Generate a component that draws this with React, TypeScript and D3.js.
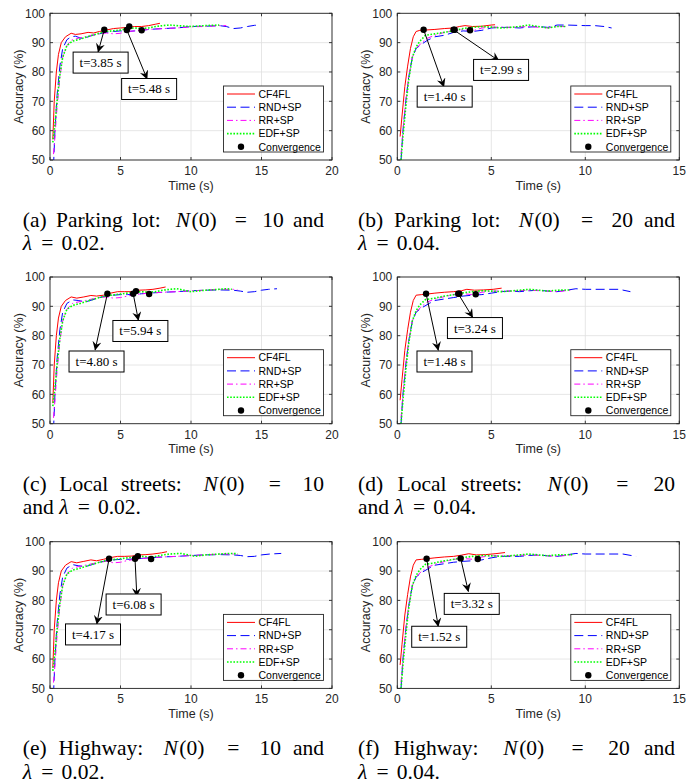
import React from 'react';
import * as d3 from 'd3';

type Pt = [number, number];

const seriesNames = ['CF4FL', 'RND+SP', 'RR+SP', 'EDF+SP'];
const seriesColors = ['#ff0000', '#0000ff', '#ff00ff', '#00ff00'];
const seriesDash = ['none', '9,4.5', '6,3,1.5,3', '1.6,1.6'];
const seriesWidth = [1, 1, 1, 1.6];
const yTicks = [50, 60, 70, 80, 90, 100];

// (a) Parking lot, N(0)=10, lambda=0.02
const aCF4FL: Pt[] = [[0.2, 57], [0.3, 70], [0.45, 80], [0.6, 86], [0.8, 90], [1.1, 92], [1.5, 93.2], [1.8, 92.8], [2.2, 93], [2.7, 93.5], [3.1, 93.3], [3.5, 93.8], [4, 94.3], [4.5, 94.8], [5, 95], [5.5, 95.2], [6, 95.5], [6.5, 95.5], [7, 95.8], [7.5, 96.3], [7.8, 96.6]];
const aRND: Pt[] = [[0.25, 48], [0.35, 60], [0.5, 72], [0.7, 82], [0.9, 88], [1.2, 91], [1.5, 92], [1.8, 92.2], [2.2, 91.5], [2.6, 91.8], [3, 92.5], [3.5, 93], [4, 93.5], [4.5, 93.8], [5, 94], [5.5, 93.8], [6, 94], [6.5, 94.2], [7, 94.5], [8, 94.8], [9, 95], [10, 95.5], [11, 95.6], [12, 95.8], [12.5, 95.5], [13, 94.8], [13.5, 95], [14, 95.5], [14.5, 95.9], [14.9, 96]];
const aRR: Pt[] = [[0.25, 52], [0.35, 58], [0.5, 68], [0.7, 78], [0.9, 85], [1.2, 89], [1.5, 90.8], [2, 91.5], [2.5, 92], [3, 92.5], [3.5, 93], [4, 93.3], [4.5, 93], [5, 93.2], [5.5, 93.8], [6, 94], [7, 94.5], [8, 94.8], [9, 95], [10, 95.4], [11, 95.5], [12, 95.8], [12.5, 95.8]];
const aEDF: Pt[] = [[0.2, 56], [0.35, 62], [0.5, 70], [0.7, 79], [0.9, 85], [1.2, 89], [1.6, 90.5], [2, 91], [2.5, 91.8], [3, 92.5], [3.5, 93.2], [4, 93.8], [5, 94.3], [5.5, 94.8], [6, 95], [6.5, 94.8], [7, 95], [7.5, 95.5], [8, 95.8], [8.5, 96], [9, 95.8], [10, 95.5], [11, 95.8], [12, 96]];
const aConv: Pt[] = [[3.85, 94.4], [5.45, 94.3], [5.62, 95.5], [6.5, 94.2]];
const aNotes = ['t=3.85 s', 't=5.48 s'];

// (b) Parking lot, N(0)=20, lambda=0.04
const bCF4FL: Pt[] = [[0.15, 58], [0.25, 65], [0.4, 75], [0.55, 82], [0.7, 88], [0.85, 92], [1.0, 93.8], [1.2, 94.2], [1.5, 94.3], [2, 94.5], [2.5, 94.8], [3, 95], [3.3, 95.5], [3.6, 95.8], [4, 95.5], [4.5, 95.6], [5, 96], [5.2, 96.1]];
const bRND: Pt[] = [[0.2, 50], [0.3, 60], [0.45, 70], [0.6, 78], [0.8, 85], [1.0, 88], [1.3, 89.5], [1.6, 90.8], [2, 92], [2.5, 92.5], [3, 93.5], [3.5, 94], [4, 93.8], [4.5, 94.2], [5, 95], [5.5, 95.2], [6, 95.2], [6.5, 95], [7, 95.3], [7.5, 95.5], [8, 95.2], [8.5, 96], [9, 96], [10, 95.8], [10.5, 95.8], [11, 95.5], [11.4, 95]];
const bRR: Pt[] = [[0.2, 52], [0.3, 60], [0.45, 70], [0.6, 78], [0.8, 85], [1.0, 88], [1.3, 90], [1.6, 91.5], [2, 92.5], [2.5, 93.5], [3, 94], [3.5, 94.5], [4, 94], [4.5, 95], [5, 95.3], [6, 95.2], [7, 95.5], [8, 95], [8.5, 95.5], [9, 95.5]];
const bEDF: Pt[] = [[0.2, 50], [0.3, 58], [0.45, 68], [0.6, 77], [0.8, 85], [1.0, 88.5], [1.2, 90.5], [1.5, 92.5], [2, 93], [2.5, 93.5], [3, 94], [3.5, 94.8], [4, 95.2], [4.5, 95.5], [5, 95.3], [5.5, 95], [6, 95.2], [6.5, 95.5], [7, 96], [7.5, 95.5], [8, 95], [8.5, 95.5], [9, 95.5]];
const bConv: Pt[] = [[1.4, 94.4], [2.99, 94.4], [3.05, 94.4], [3.87, 94.2]];
const bNotes = ['t=1.40 s', 't=2.99 s'];

// (c) Local streets, N(0)=10, lambda=0.02
const cCF4FL: Pt[] = [[0.2, 57], [0.3, 70], [0.45, 80], [0.6, 86], [0.8, 90], [1.1, 92], [1.5, 93.2], [1.9, 92.8], [2.4, 93.2], [2.9, 93.7], [3.3, 93.5], [3.8, 93.8], [4.3, 94.5], [4.8, 95], [5.3, 95], [5.8, 95], [6.3, 95.5], [6.8, 95.6], [7.3, 95.8], [7.8, 96.2], [8.2, 96.6]];
const cRND: Pt[] = [[0.25, 48], [0.35, 60], [0.5, 72], [0.7, 82], [0.9, 88], [1.2, 91], [1.6, 92.2], [2, 92], [2.5, 91.5], [3, 92.2], [3.5, 93], [4, 93.5], [4.5, 93.8], [5, 94], [5.5, 94], [6, 94], [6.5, 94.3], [7, 94.5], [8, 94.8], [9, 95], [10, 95.3], [11, 95.5], [12, 95.6], [13, 95.5], [13.5, 95.2], [14, 94.8], [14.5, 95], [15, 95.5], [15.5, 95.8], [16.1, 96]];
const cRR: Pt[] = [[0.25, 52], [0.35, 58], [0.5, 68], [0.7, 78], [0.9, 85], [1.2, 89], [1.6, 91], [2, 91.5], [2.5, 92], [3, 92.5], [3.5, 93], [4, 93.2], [4.5, 92.8], [5, 93], [5.5, 93.5], [6, 94], [7, 94.5], [8, 94.8], [9, 95], [10, 95.3], [11, 95.5], [12, 95.8], [13, 95.8], [13.3, 95.6]];
const cEDF: Pt[] = [[0.2, 56], [0.35, 62], [0.5, 70], [0.7, 79], [0.9, 85], [1.2, 89], [1.6, 90.3], [2, 90.8], [2.5, 91.5], [3, 92.3], [3.5, 93], [4, 93.6], [5, 94.2], [5.5, 94.5], [6, 94.8], [6.5, 95], [7, 94.8], [7.5, 95], [8, 95.5], [8.5, 95.8], [9, 96], [9.5, 95.5], [10, 95], [11, 95.5], [12, 95.8], [12.5, 96], [12.9, 95.8]];
const cConv: Pt[] = [[4.07, 94.3], [5.9, 94.3], [6.1, 95.2], [7.03, 94.2]];
const cNotes = ['t=4.80 s', 't=5.94 s'];

// (d) Local streets, N(0)=20, lambda=0.04
const dCF4FL: Pt[] = [[0.15, 58], [0.25, 65], [0.4, 75], [0.55, 82], [0.7, 88], [0.85, 92], [1.0, 93.8], [1.3, 94], [1.6, 94.2], [2, 94.5], [2.5, 94.8], [3, 95], [3.4, 95.3], [3.7, 95.8], [4.1, 95.5], [4.6, 95.6], [5.1, 95.8], [5.55, 96.2]];
const dRND: Pt[] = [[0.2, 50], [0.3, 60], [0.45, 70], [0.6, 78], [0.8, 85], [1.0, 88], [1.3, 89.5], [1.7, 91], [2, 92], [2.5, 92.5], [3, 93], [3.5, 93.5], [4, 93.8], [4.5, 94], [5, 94.5], [5.5, 95], [6, 95.2], [6.5, 95], [7, 95.3], [7.5, 95.5], [8, 95.2], [8.5, 95], [9, 95.5], [9.5, 96], [10, 95.8], [11, 95.8], [11.8, 95.8], [12.4, 95]];
const dRR: Pt[] = [[0.2, 52], [0.3, 60], [0.45, 70], [0.6, 78], [0.8, 85], [1.0, 88], [1.3, 90], [1.6, 91.5], [2, 92.5], [2.5, 93.3], [3, 94], [3.5, 94.3], [4, 94], [4.5, 94.8], [5, 95.2], [6, 95.2], [7, 95.5], [8, 95.2], [8.5, 95], [9.2, 95.5]];
const dEDF: Pt[] = [[0.2, 50], [0.3, 58], [0.45, 68], [0.6, 77], [0.8, 85], [1.0, 88.5], [1.2, 90.5], [1.5, 92.3], [2, 92.8], [2.5, 93.5], [3, 94], [3.5, 94.6], [4, 95], [4.5, 95.3], [5, 95.2], [5.5, 95], [6, 95.2], [6.5, 95.5], [7, 95.8], [7.5, 95.5], [8, 95.2], [8.5, 95.5], [9.2, 95.6]];
const dConv: Pt[] = [[1.53, 94.3], [3.24, 94.3], [3.3, 94.3], [4.17, 94.1]];
const dNotes = ['t=1.48 s', 't=3.24 s'];

// (e) Highway, N(0)=10, lambda=0.02
const eCF4FL: Pt[] = [[0.2, 57], [0.3, 70], [0.45, 80], [0.6, 86], [0.8, 90], [1.1, 92], [1.5, 93.2], [1.9, 92.8], [2.4, 93.3], [2.9, 93.8], [3.3, 93.5], [3.8, 94], [4.3, 94.6], [4.8, 95], [5.3, 95], [5.8, 95.1], [6.3, 95.5], [6.8, 95.6], [7.3, 95.8], [7.9, 96.2], [8.3, 96.6]];
const eRND: Pt[] = [[0.25, 48], [0.35, 60], [0.5, 72], [0.7, 82], [0.9, 88], [1.2, 91], [1.6, 92.2], [2, 91.8], [2.5, 91.5], [3, 92.2], [3.5, 93], [4, 93.5], [4.5, 93.8], [5, 94], [5.5, 94], [6, 94.1], [6.5, 94.3], [7, 94.5], [8, 94.8], [9, 95], [10, 95.3], [11, 95.5], [12, 95.6], [13, 95.5], [13.5, 95.3], [14, 94.9], [14.5, 95], [15, 95.5], [15.6, 95.8], [16.4, 96]];
const eRR: Pt[] = [[0.25, 52], [0.35, 58], [0.5, 68], [0.7, 78], [0.9, 85], [1.2, 89], [1.6, 91], [2, 91.5], [2.5, 92], [3, 92.5], [3.5, 93], [4, 93.3], [4.5, 92.8], [5, 93], [5.5, 93.6], [6, 94], [7, 94.5], [8, 94.8], [9, 95], [10, 95.3], [11, 95.5], [12, 95.8], [13, 95.8], [13.3, 95.6]];
const eEDF: Pt[] = [[0.2, 56], [0.35, 62], [0.5, 70], [0.7, 79], [0.9, 85], [1.2, 89], [1.6, 90.3], [2, 90.8], [2.5, 91.5], [3, 92.3], [3.5, 93], [4, 93.6], [5, 94.2], [5.5, 94.5], [6, 94.8], [6.5, 95], [7, 94.8], [7.5, 95], [8, 95.5], [8.5, 95.8], [9.3, 96], [9.8, 95.5], [10.3, 95], [11, 95.5], [12, 95.8], [12.7, 96], [13.3, 95.9]];
const eConv: Pt[] = [[4.19, 94.2], [6.03, 94.2], [6.23, 95.1], [7.17, 94.1]];
const eNotes = ['t=4.17 s', 't=6.08 s'];

// (f) Highway, N(0)=20, lambda=0.04
const fCF4FL: Pt[] = [[0.15, 58], [0.25, 65], [0.4, 75], [0.55, 82], [0.7, 88], [0.85, 92], [1.0, 93.8], [1.3, 94], [1.6, 94.2], [2, 94.5], [2.5, 94.8], [3, 95], [3.4, 95.4], [3.8, 95.9], [4.2, 95.5], [4.7, 95.6], [5.2, 95.9], [5.73, 96.3]];
const fRND: Pt[] = [[0.2, 50], [0.3, 60], [0.45, 70], [0.6, 78], [0.8, 85], [1.0, 88], [1.3, 89.5], [1.7, 91], [2, 92], [2.5, 92.5], [3, 93], [3.5, 93.3], [4, 93.5], [4.5, 93.8], [5, 94.5], [5.5, 95], [6, 95], [6.5, 95], [7, 95.3], [7.5, 95.5], [8, 95.2], [8.5, 95], [9, 95.5], [9.5, 96], [10, 95.8], [11, 95.8], [12, 95.8], [12.7, 95]];
const fRR: Pt[] = [[0.2, 52], [0.3, 60], [0.45, 70], [0.6, 78], [0.8, 85], [1.0, 88], [1.3, 90], [1.6, 91.2], [2, 92.3], [2.5, 93.2], [3, 94], [3.5, 94.3], [4, 94], [4.5, 94.8], [5, 95.2], [6, 95.2], [7, 95.5], [8, 95.2], [8.5, 95], [9.3, 95.5]];
const fEDF: Pt[] = [[0.2, 50], [0.3, 58], [0.45, 68], [0.6, 77], [0.8, 85], [1.0, 88.5], [1.2, 90.5], [1.5, 92.3], [2, 92.8], [2.5, 93.5], [3, 94], [3.5, 94.6], [4, 95], [4.5, 95.3], [5, 95.2], [5.5, 95], [6, 95.2], [6.5, 95.5], [7, 95.8], [7.5, 95.5], [8, 95.2], [8.5, 95.5], [9.3, 95.6]];
const fConv: Pt[] = [[1.56, 94.2], [3.37, 94.3], [4.28, 94.1]];
const fNotes = ['t=1.52 s', 't=3.32 s'];

const captionA = ['(a) Parking lot: N(0) = 10 and', 'λ = 0.02.'];
const captionB = ['(b) Parking lot: N(0) = 20 and', 'λ = 0.04.'];
const captionC = ['(c) Local streets: N(0) = 10', 'and λ = 0.02.'];
const captionD = ['(d) Local streets: N(0) = 20', 'and λ = 0.04.'];
const captionE = ['(e) Highway: N(0) = 10 and', 'λ = 0.02.'];
const captionF = ['(f) Highway: N(0) = 20 and', 'λ = 0.04.'];

// layout
const plotW = 282;
const plotH = 146.7;
const colX = [50, 397.3];
const rowY = [13.3, 277, 541.7];
const capX = [[22.8, 324], [358, 675]];
const capFont = 21.5;

// annotation placement in data units: box centre and arrow head
const panels = [
  { id: 'a', col: 0, row: 0, xMax: 20, series: [aCF4FL, aRND, aRR, aEDF], conv: aConv, notes: aNotes, caption: captionA,
    place: [{ from: 0, box: [3.59, 83.2], head: [3.41, 86.8] }, { from: 1, box: [7.03, 74.2], head: [6.89, 77.6] }] },
  { id: 'b', col: 1, row: 0, xMax: 15, series: [bCF4FL, bRND, bRR, bEDF], conv: bConv, notes: bNotes, caption: captionB,
    place: [{ from: 0, box: [2.52, 71.6], head: [2.48, 74.9] }, { from: 1, box: [5.52, 80.7], head: [5.41, 83.8] }] },
  { id: 'c', col: 0, row: 1, xMax: 20, series: [cCF4FL, cRND, cRR, cEDF], conv: cConv, notes: cNotes, caption: captionC,
    place: [{ from: 0, box: [3.3, 71.2], head: [3.2, 75.1] }, { from: 1, box: [6.41, 81.6], head: [6.27, 85.2] }] },
  { id: 'd', col: 1, row: 1, xMax: 15, series: [dCF4FL, dRND, dRR, dEDF], conv: dConv, notes: dNotes, caption: captionD,
    place: [{ from: 0, box: [2.51, 71.2], head: [2.18, 75.0] }, { from: 1, box: [4.13, 82.6], head: [4.01, 86.2] }] },
  { id: 'e', col: 0, row: 2, xMax: 20, series: [eCF4FL, eRND, eRR, eEDF], conv: eConv, notes: eNotes, caption: captionE,
    place: [{ from: 0, box: [3.05, 68.4], head: [3.32, 71.9] }, { from: 1, box: [5.93, 78.6], head: [6.16, 81.3] }] },
  { id: 'f', col: 1, row: 2, xMax: 15, series: [fCF4FL, fRND, fRR, fEDF], conv: fConv, notes: fNotes, caption: captionF,
    place: [{ from: 0, box: [2.23, 67.6], head: [2.18, 71.1] }, { from: 1, box: [3.96, 78.8], head: [3.78, 83.0] }] },
];

const axisColor = '#262626';
const sans = '"Liberation Sans", Arial, sans-serif';
const serif = '"Liberation Serif", "Times New Roman", serif';

let ctx: CanvasRenderingContext2D | null = null;
function measure(s: string, italic = false) {
  if (!ctx) ctx = document.createElement('canvas').getContext('2d');
  if (!ctx) return s.length * capFont * 0.5;
  ctx.font = `${italic ? 'italic ' : ''}${capFont}px ${serif}`;
  return ctx.measureText(s).width;
}

// math words are set a little wider (as in the TeX math font)
function wordWidth(w: string) {
  if (w === 'N(0)') return measure('N', true) + measure('(0)') + 0.2 * capFont;
  if (w === 'λ') return measure('λ', true) + 0.05 * capFont;
  if (w === '=') return measure('=') + 0.2 * capFont;
  return measure(w);
}

// TeX-like glue: [natural, stretch] in em
function glue(prev: string, next: string): [number, number] {
  if (prev === '=' || next === '=') return [0.278, 0.278];
  if (prev.endsWith(':')) return [0.33, 0.3];
  return [0.25, 0.15];
}

function Word({ w, x, y }: { w: string; x: number; y: number }) {
  if (w === 'N(0)') {
    return <text x={x} y={y}><tspan fontStyle="italic">N</tspan><tspan dx={1.5}>(0)</tspan></text>;
  }
  if (w === 'λ') return <text x={x} y={y} fontStyle="italic">λ</text>;
  if (w === '=') return <text x={x + 0.1 * capFont} y={y}>=</text>;
  return <text x={x} y={y}>{w}</text>;
}

function layoutLine(words: string[], x0: number, x1: number | null) {
  const widths = words.map(wordWidth);
  const glues = words.slice(1).map((w, i) => glue(words[i], w));
  const natural = d3.sum(widths) + d3.sum(glues, (g) => g[0] * capFont);
  const stretch = d3.sum(glues, (g) => g[1] * capFont);
  const ratio = x1 === null ? 0 : (x1 - x0 - natural) / stretch;
  let cx = x0;
  return widths.map((w, i) => {
    const p = cx;
    if (i < glues.length) cx += w + glues[i][0] * capFont + glues[i][1] * capFont * ratio;
    return p;
  });
}

function Caption({ lines, x0, x1, y }: { lines: string[]; x0: number; x1: number; y: number }) {
  const first = lines[0].split(' ');
  const second = lines[1].split(' ');
  const pos1 = layoutLine(first, x0, x1);
  const pos2 = layoutLine(second, x0, null);
  return (
    <g fontFamily={serif} fontSize={capFont} fill="#000">
      {first.map((w, i) => <Word key={'a' + i} w={w} x={pos1[i]} y={y} />)}
      {second.map((w, i) => <Word key={'b' + i} w={w} x={pos2[i]} y={y + 23.5} />)}
    </g>
  );
}

function Panel({ p }: { p: any }) {
  const x0 = colX[p.col];
  const y0 = rowY[p.row];
  const x = d3.scaleLinear().domain([0, p.xMax]).range([x0, x0 + plotW]);
  const y = d3.scaleLinear().domain([50, 100]).range([y0 + plotH, y0]);
  const line = d3.line<Pt>().x((d) => x(d[0])).y((d) => y(d[1]));
  const xTicks = d3.range(0, p.xMax + 1, 5);
  const clipId = 'clip-' + p.id;
  const tk = 3;

  const lgW = 100;
  const lgX = x0 + plotW - 8.5 - lgW;
  const lgY = y0 + 72.7;
  const lgH = 66;

  return (
    <g>
      <defs>
        <clipPath id={clipId}>
          <rect x={x0} y={y0} width={plotW} height={plotH} />
        </clipPath>
      </defs>
      <rect x={x0} y={y0} width={plotW} height={plotH} fill="#fff" />
      {xTicks.map((t) => (
        <line key={'gx' + t} x1={x(t)} x2={x(t)} y1={y0} y2={y0 + plotH} stroke="#dfdfdf" strokeWidth={0.8} />
      ))}
      {yTicks.map((t) => (
        <line key={'gy' + t} x1={x0} x2={x0 + plotW} y1={y(t)} y2={y(t)} stroke="#dfdfdf" strokeWidth={0.8} />
      ))}
      <g clipPath={`url(#${clipId})`}>
        {p.series.map((s: Pt[], i: number) => (
          <path key={i} d={line(s) || ''} fill="none" stroke={seriesColors[i]} strokeWidth={seriesWidth[i]}
            strokeDasharray={seriesDash[i]} />
        ))}
        {p.conv.map((c: Pt, i: number) => (
          <circle key={'c' + i} cx={x(c[0])} cy={y(c[1])} r={3.2} fill="#000" />
        ))}
      </g>
      {/* axes box with inward ticks */}
      <rect x={x0} y={y0} width={plotW} height={plotH} fill="none" stroke={axisColor} strokeWidth={0.9} />
      {xTicks.map((t) => (
        <g key={'tx' + t}>
          <line x1={x(t)} x2={x(t)} y1={y0 + plotH} y2={y0 + plotH - tk} stroke={axisColor} strokeWidth={0.9} />
          <line x1={x(t)} x2={x(t)} y1={y0} y2={y0 + tk} stroke={axisColor} strokeWidth={0.9} />
          <text x={x(t)} y={y0 + plotH + 15} textAnchor="middle" fontFamily={sans} fontSize={12} fill={axisColor}>{t}</text>
        </g>
      ))}
      {yTicks.map((t) => (
        <g key={'ty' + t}>
          <line x1={x0} x2={x0 + tk} y1={y(t)} y2={y(t)} stroke={axisColor} strokeWidth={0.9} />
          <line x1={x0 + plotW} x2={x0 + plotW - tk} y1={y(t)} y2={y(t)} stroke={axisColor} strokeWidth={0.9} />
          <text x={x0 - 5} y={y(t) + 4.3} textAnchor="end" fontFamily={sans} fontSize={12} fill={axisColor}>{t}</text>
        </g>
      ))}
      <text x={x0 + plotW / 2} y={y0 + plotH + 29.5} textAnchor="middle" fontFamily={sans} fontSize={12.5} fill={axisColor}>Time (s)</text>
      <text transform={`translate(${x0 - 27.5},${y0 + plotH / 2}) rotate(-90)`} textAnchor="middle" fontFamily={sans}
        fontSize={12.5} fill={axisColor}>Accuracy (%)</text>

      {/* legend */}
      <rect x={lgX} y={lgY} width={lgW} height={lgH} fill="#fff" stroke={axisColor} strokeWidth={0.9} />
      {seriesNames.map((n, i) => {
        const ly = lgY + 8 + i * 13.2;
        return (
          <g key={'lg' + i}>
            <line x1={lgX + 3.5} x2={lgX + 31.5} y1={ly} y2={ly} stroke={seriesColors[i]} strokeWidth={seriesWidth[i]}
              strokeDasharray={seriesDash[i]} />
            <text x={lgX + 35} y={ly + 3.7} fontFamily={sans} fontSize={10.5} fill="#000">{n}</text>
          </g>
        );
      })}
      <circle cx={lgX + 17.5} cy={lgY + 8 + 4 * 13.2} r={3.2} fill="#000" />
      <text x={lgX + 35} y={lgY + 8 + 4 * 13.2 + 3.7} fontFamily={sans} fontSize={10.5} fill="#000">Convergence</text>

      {/* annotations */}
      {p.place.map((a: any, i: number) => {
        const from = p.conv[a.from];
        const bx = x(a.box[0]);
        const by = y(a.box[1]);
        return (
          <g key={'an' + i}>
            <line x1={x(from[0])} y1={y(from[1])} x2={x(a.head[0])} y2={y(a.head[1])} stroke="#000" strokeWidth={1}
              markerEnd="url(#arrowHead)" />
            <rect x={bx - 27.5} y={by - 10.5} width={55} height={21} fill="#fff" stroke="#000" strokeWidth={1} />
            <text x={bx} y={by + 4.5} textAnchor="middle" fontFamily={serif} fontSize={13} fill="#000">{p.notes[i]}</text>
          </g>
        );
      })}

      <Caption lines={p.caption} x0={capX[p.col][0]} x1={capX[p.col][1]} y={y0 + 213.5} />
    </g>
  );
}

export default function App() {
  return (
    <svg width={687} height={784} style={{ position: 'absolute', left: 0, top: 0, background: '#fff' }}>
      <defs>
        <marker id="arrowHead" viewBox="0 0 10 10" refX="9.5" refY="5" markerWidth="9" markerHeight="9"
          markerUnits="userSpaceOnUse" orient="auto">
          <path d="M0,0 L10,5 L0,10 L3.5,5 z" fill="#000" />
        </marker>
      </defs>
      <rect width={687} height={784} fill="#fff" />
      {panels.map((p) => <Panel key={p.id} p={p} />)}
    </svg>
  );
}
